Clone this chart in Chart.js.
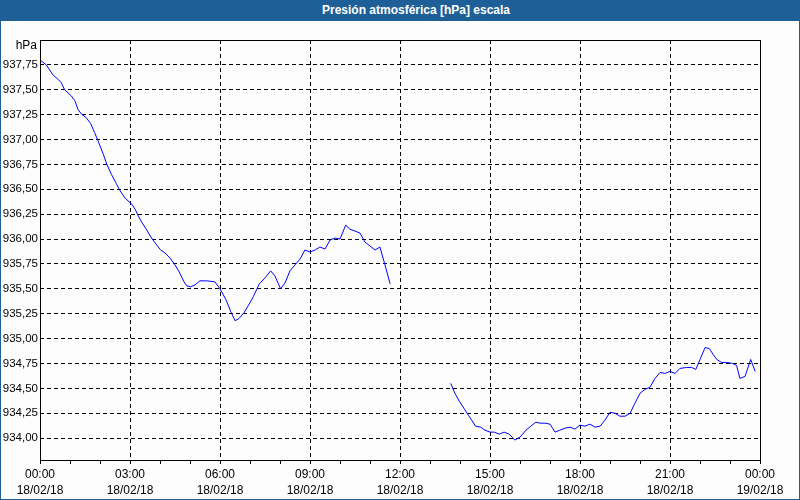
<!DOCTYPE html>
<html>
<head>
<meta charset="utf-8">
<script src="https://cdn.jsdelivr.net/npm/chart.js@4"></script>
<style>
  html, body { margin: 0; padding: 0; background: #ffffff; }
  #frame { position: relative; width: 800px; height: 500px; box-sizing: border-box;
           border-left: 1px solid #1f5f97; border-right: 1px solid #1f5f97; border-bottom: 1px solid #1f5f97;
           background: #fcfdfc; overflow: hidden; }
  #title { height: 21px; background: #1f5f97; color: #ffffff; font: bold 12px "Liberation Sans", Arial, sans-serif;
           line-height: 21px; text-align: center; padding-left: 32px; box-sizing: border-box; margin: 0 -1px; }
  canvas { display: block; }
</style>
</head>
<body>
<div id="frame">
  <div id="title">Presión atmosférica [hPa] escala</div>
  <canvas id="c" width="798" height="478"></canvas>
</div>
<script>
// Hours since 18/02/18 00:00
const hours = [
  0.00, 0.21, 0.43, 0.62, 0.71, 0.82, 1.04, 1.16, 1.27, 1.40, 1.54, 1.69, 1.82, 1.93, 2.10, 2.23, 2.38, 2.54, 2.66, 2.84,
  3.06, 3.17, 3.28, 3.39, 3.56, 3.72, 3.89, 4.02, 4.17, 4.33, 4.50, 4.64, 4.80, 4.89, 5.02, 5.17, 5.33, 5.56, 5.83,
  6.00, 6.20, 6.36, 6.50, 6.63, 6.80, 6.94, 7.11, 7.31, 7.50, 7.69, 7.83, 8.02, 8.17, 8.33, 8.50, 8.67, 8.83,
  9.00, 9.17, 9.33, 9.50, 9.67, 9.83, 10.00, 10.19, 10.33, 10.50, 10.67, 10.83, 11.00, 11.17, 11.33, 11.50, 11.67,
  12.50,
  13.69, 13.83, 13.98, 14.13, 14.28, 14.39, 14.52, 14.69, 14.83, 15.00, 15.14, 15.31, 15.47, 15.64, 15.83,
  16.00, 16.20, 16.36, 16.53, 16.67, 16.83, 17.00, 17.17, 17.33, 17.50, 17.67, 17.83, 18.00, 18.17, 18.33, 18.50,
  18.67, 18.83, 19.00, 19.17, 19.33, 19.50, 19.67, 19.83, 20.00, 20.17, 20.33, 20.50, 20.67, 20.83, 21.00, 21.17,
  21.33, 21.56, 21.72, 21.86, 22.00, 22.17, 22.31, 22.44, 22.56, 22.72, 22.89, 23.09, 23.22, 23.33, 23.50, 23.69, 23.84
];
const pressure = [
  937.80, 937.75, 937.65, 937.60, 937.57, 937.50, 937.44, 937.39, 937.30, 937.25, 937.22, 937.16, 937.07, 936.99, 936.86, 936.75, 936.65, 936.56, 936.49, 936.41,
  936.35, 936.30, 936.23, 936.17, 936.09, 936.01, 935.94, 935.89, 935.86, 935.81, 935.74, 935.67, 935.57, 935.53, 935.52, 935.54, 935.58, 935.58, 935.57,
  935.50, 935.39, 935.27, 935.18, 935.20, 935.26, 935.33, 935.42, 935.55, 935.61, 935.68, 935.63, 935.50, 935.56, 935.68, 935.74, 935.80, 935.89,
  935.87, 935.89, 935.92, 935.90, 935.99, 936.01, 936.00, 936.14, 936.10, 936.08, 936.06, 935.97, 935.93, 935.89, 935.92, 935.74, 935.55,
  null,
  934.55, 934.45, 934.37, 934.30, 934.23, 934.18, 934.12, 934.11, 934.08, 934.06, 934.06, 934.04, 934.06, 934.04, 933.98,
  934.01, 934.08, 934.12, 934.16, 934.15, 934.15, 934.14, 934.06, 934.08, 934.10, 934.11, 934.09, 934.13, 934.12, 934.14, 934.11,
  934.12, 934.18, 934.26, 934.25, 934.22, 934.22, 934.25, 934.35, 934.45, 934.49, 934.51, 934.60, 934.66, 934.65, 934.67, 934.65,
  934.70, 934.71, 934.71, 934.69, 934.79, 934.91, 934.90, 934.84, 934.79, 934.76, 934.76, 934.75, 934.73, 934.60, 934.62, 934.79, 934.67
];
const yTicks = [934.00, 934.25, 934.50, 934.75, 935.00, 935.25, 935.50, 935.75, 936.00, 936.25, 936.50, 936.75, 937.00, 937.25, 937.50, 937.75];
const xTickHours = [0, 3, 6, 9, 12, 15, 18, 21, 24];
const xTickTimes = ['00:00', '03:00', '06:00', '09:00', '12:00', '15:00', '18:00', '21:00', '00:00'];
const xTickDates = ['18/02/18', '18/02/18', '18/02/18', '18/02/18', '18/02/18', '18/02/18', '18/02/18', '18/02/18', '19/02/18'];
const unitLabel = 'hPa';

const FONT = { family: '"Liberation Sans", Arial, sans-serif', size: 12 };

const points = hours.map((h, i) => ({ x: h, y: pressure[i] }));

const boxPlugin = {
  id: 'box',
  afterDraw(chart) {
    const { ctx, chartArea: a } = chart;
    ctx.save();
    ctx.strokeStyle = '#000';
    ctx.lineWidth = 1;
    ctx.setLineDash([]);
    ctx.strokeRect(Math.round(a.left) + 0.5, Math.round(a.top) + 0.5, Math.round(a.right - a.left), Math.round(a.bottom - a.top));
    ctx.fillStyle = '#000';
    ctx.font = FONT.size + 'px ' + FONT.family;
    ctx.textAlign = 'right';
    ctx.textBaseline = 'middle';
    ctx.fillText(unitLabel, a.left - 3, a.top + 6);
    ctx.restore();
  }
};

new Chart(document.getElementById('c'), {
  type: 'line',
  data: {
    datasets: [{
      data: points,
      borderColor: '#0000ff',
      borderWidth: 1,
      pointRadius: 0,
      tension: 0,
      spanGaps: false,
      fill: false
    }]
  },
  options: {
    responsive: false,
    animation: false,
    devicePixelRatio: 1,
    layout: { padding: { top: 19, right: 39, left: 0, bottom: 0 } },
    plugins: { legend: { display: false }, tooltip: { enabled: false }, title: { display: false } },
    scales: {
      x: {
        type: 'linear',
        min: 0,
        max: 24,
        afterBuildTicks(scale) {
          const t = [];
          for (let h = 0; h <= 24; h++) t.push({ value: h });
          scale.ticks = t;
        },
        afterFit(scale) { scale.height = 39; },
        grid: {
          color: (ctx) => (ctx.tick && xTickHours.includes(ctx.tick.value)) ? '#000' : 'rgba(0,0,0,0)',
          tickColor: '#000',
          tickLength: 4,
          lineWidth: 1
        },
        border: { display: false, dash: [4, 3] },
        ticks: {
          autoSkip: false,
          maxRotation: 0,
          padding: 3,
          color: '#000',
          font: { ...FONT, lineHeight: 1.3 },
          callback: (v) => {
            const i = xTickHours.indexOf(v);
            return i >= 0 ? [xTickTimes[i], xTickDates[i]] : '';
          }
        }
      },
      y: {
        min: 933.78,
        max: 938.0,
        afterBuildTicks(scale) { scale.ticks = yTicks.map(v => ({ value: v })); },
        afterFit(scale) { scale.width = 39; },
        grid: { color: '#000', drawTicks: false, lineWidth: 1 },
        border: { display: false, dash: [4, 3] },
        ticks: {
          padding: 2,
          color: '#000',
          font: { ...FONT, size: 11.5 },
          callback: (v) => v.toFixed(2).replace('.', ',')
        }
      }
    }
  },
  plugins: [boxPlugin]
});
</script>
</body>
</html>
